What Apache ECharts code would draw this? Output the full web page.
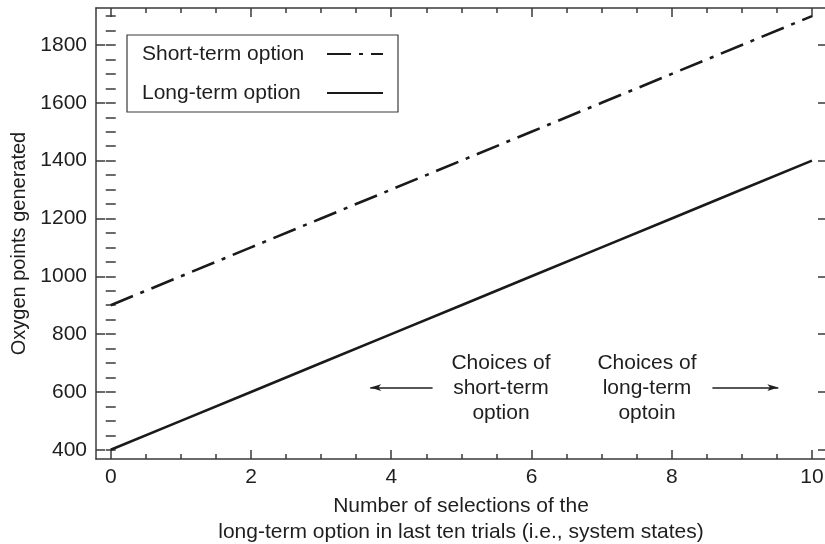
<!DOCTYPE html>
<html>
<head>
<meta charset="utf-8">
<script src="https://cdn.jsdelivr.net/npm/echarts@6/dist/echarts.min.js"></script>
<style>
  html, body { margin: 0; padding: 0; background: #ffffff; }
  #chart { width: 825px; height: 544px; }
</style>
</head>
<body>
<div id="chart"></div>
<script>
// Number of long-term selections in the last ten trials
const selections = [0, 1, 2, 3, 4, 5, 6, 7, 8, 9, 10];
// Oxygen points generated by each option
const shortTermPoints = [900, 1000, 1100, 1200, 1300, 1400, 1500, 1600, 1700, 1800, 1900];
const longTermPoints = [400, 500, 600, 700, 800, 900, 1000, 1100, 1200, 1300, 1400];

// Tick positions
const xMajorTicks = [0, 2, 4, 6, 8, 10];
const xMinorTicks = [0, 0.5, 1, 1.5, 2, 2.5, 3, 3.5, 4, 4.5, 5, 5.5, 6, 6.5, 7, 7.5, 8, 8.5, 9, 9.5, 10];
const yMajorTicks = [400, 600, 800, 1000, 1200, 1400, 1600, 1800];
const yMinorTicks = [400, 450, 500, 550, 600, 650, 700, 750, 800, 850, 900, 950, 1000, 1050, 1100,
  1150, 1200, 1250, 1300, 1350, 1400, 1450, 1500, 1550, 1600, 1650, 1700, 1750, 1800, 1850, 1900];

const FONT = '"Liberation Sans", Arial, Helvetica, sans-serif';
const INK = '#1e1e1e';
const FRAME = '#3a3a3a';

const X_MIN = -0.21, X_MAX = 10.2;
const Y_MIN = 368, Y_MAX = 1928;

function pairs(xs, ys) {
  return xs.map((x, i) => [x, ys[i]]);
}

function xAxisDef(position, ticks, tickLen, opts) {
  return Object.assign({
    type: 'value', position: position, min: X_MIN, max: X_MAX,
    axisLine: { show: true, onZero: false, lineStyle: { color: FRAME, width: 1.5 } },
    axisTick: { show: true, inside: true, length: tickLen, customValues: ticks,
      lineStyle: { color: FRAME, width: 1.5 } },
    axisLabel: { show: false },
    splitLine: { show: false }
  }, opts || {});
}

function yAxisDef(position, ticks, tickLen, opts) {
  return Object.assign({
    type: 'value', position: position, min: Y_MIN, max: Y_MAX,
    axisLine: { show: true, onZero: false, lineStyle: { color: FRAME, width: 1.5 } },
    axisTick: { show: true, inside: true, length: tickLen, customValues: ticks,
      lineStyle: { color: FRAME, width: 1.5 } },
    axisLabel: { show: false },
    splitLine: { show: false }
  }, opts || {});
}

const chart = echarts.init(document.getElementById('chart'), null, { renderer: 'canvas' });

const option = {
  backgroundColor: '#ffffff',
  animation: false,
  textStyle: { fontFamily: FONT },
  grid: { left: 96, right: -1, top: 8, bottom: 85, containLabel: false, outerBoundsMode: 'none' },
  legend: {
    orient: 'vertical',
    left: 127, top: 35,
    align: 'right',
    padding: [7, 14, 7, 15],
    itemGap: 15,
    itemWidth: 56,
    itemHeight: 14,
    borderColor: FRAME,
    borderWidth: 1.2,
    borderRadius: 0,
    itemStyle: { opacity: 0 },
    data: ['Short-term option', 'Long-term option'],
    formatter: name => '{t|' + name + '}',
    textStyle: {
      fontFamily: FONT, fontSize: 21, color: INK, lineHeight: 24,
      rich: { t: { fontFamily: FONT, fontSize: 21, color: INK, width: 180, align: 'left', lineHeight: 24 } }
    }
  },
  xAxis: [
    xAxisDef('bottom', xMajorTicks, 9, {
      axisLabel: { show: true, customValues: xMajorTicks, fontFamily: FONT, fontSize: 21,
        color: INK, margin: 8, formatter: v => String(v) },
      name: 'Number of selections of the\nlong-term option in last ten trials (i.e., system states)',
      nameLocation: 'middle', nameGap: 31,
      nameTextStyle: { fontFamily: FONT, fontSize: 21, color: INK, lineHeight: 26 }
    }),
    xAxisDef('bottom', xMinorTicks, 5, { axisLine: { show: false } }),
    xAxisDef('top', xMajorTicks, 9),
    xAxisDef('top', xMinorTicks, 5, { axisLine: { show: false } })
  ],
  yAxis: [
    yAxisDef('left', yMajorTicks, 9, {
      axisLabel: { show: true, customValues: yMajorTicks, fontFamily: FONT, fontSize: 21,
        color: INK, margin: 9, formatter: v => String(v) },
      name: 'Oxygen points generated',
      nameLocation: 'middle', nameGap: 66, nameRotate: 90,
      nameTextStyle: { fontFamily: FONT, fontSize: 20, color: INK, padding: [0, 20, 0, 0] }
    }),
    yAxisDef('left', yMinorTicks, 5, { axisLine: { show: false } }),
    yAxisDef('right', yMajorTicks, 8),
    yAxisDef('right', yMinorTicks, 5, { axisLine: { show: false } })
  ],
  series: [
    {
      name: 'Short-term option',
      type: 'line',
      xAxisIndex: 0, yAxisIndex: 0,
      data: pairs(selections, shortTermPoints),
      symbol: 'none',
      lineStyle: { color: '#1a1a1a', width: 2.6, type: [24, 8, 4, 8], cap: 'butt' },
      itemStyle: { color: '#1a1a1a' },
      z: 3
    },
    {
      name: 'Long-term option',
      type: 'line',
      xAxisIndex: 0, yAxisIndex: 0,
      data: pairs(selections, longTermPoints),
      symbol: 'none',
      lineStyle: { color: '#1a1a1a', width: 2.6, type: 'solid' },
      itemStyle: { color: '#1a1a1a' },
      z: 3,
      markLine: {
        silent: true,
        animation: false,
        symbol: ['none', 'arrow'],
        symbolSize: [5, 11],
        label: { show: false },
        lineStyle: { color: INK, width: 1.5, type: 'solid' },
        data: [
          [{ coord: [4.59, 615] }, { coord: [3.70, 615] }],
          [{ coord: [8.58, 615] }, { coord: [9.52, 615] }]
        ]
      }
    }
  ],
  graphic: [
    {
      type: 'text', x: 501, y: 388, z: 10,
      style: { text: 'Choices of\nshort-term\noption', fill: INK, font: '21px ' + FONT,
        align: 'center', verticalAlign: 'middle', lineHeight: 25 }
    },
    {
      type: 'text', x: 647, y: 388, z: 10,
      style: { text: 'Choices of\nlong-term\noptoin', fill: INK, font: '21px ' + FONT,
        align: 'center', verticalAlign: 'middle', lineHeight: 25 }
    }
  ]
};

chart.setOption(option);
</script>
</body>
</html>
